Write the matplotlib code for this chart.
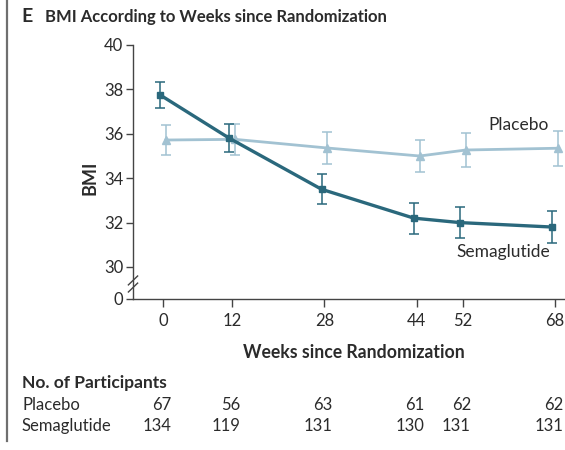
import matplotlib
matplotlib.use("Agg")
import matplotlib.pyplot as plt
import matplotlib.transforms as mtransforms
from matplotlib.lines import Line2D

plt.rcParams['font.family'] = ['Lato', 'DejaVu Sans']

weeks = [0, 12, 28, 44, 52, 68]
sema_bmi = [37.75, 35.8, 33.5, 32.2, 32.0, 31.8]
sema_err = [0.57, 0.62, 0.68, 0.7, 0.7, 0.72]
placebo_bmi = [35.72, 35.75, 35.36, 35.0, 35.27, 35.35]
placebo_err = [0.68, 0.7, 0.7, 0.72, 0.78, 0.78]
placebo_n = [67, 56, 63, 61, 62, 62]
sema_n = [134, 119, 131, 130, 131, 131]
ytick_vals = [30, 32, 34, 36, 38, 40]

SEMA_C = '#2a687c'
PLAC_C = '#a2c2d2'
TXT = '#2b2b2b'

W, H = 565, 450
fig = plt.figure(figsize=(W / 100, H / 100), dpi=100)

ax_left, ax_right, ax_top, ax_bot = 133, 565, 45, 299
ax = fig.add_axes([ax_left / W, 1 - ax_bot / H, (ax_right - ax_left) / W, (ax_bot - ax_top) / H])

ybot = 30 - 32 / 22.2
ax.set_ylim(ybot, 40)
ax.set_xlim(-5.2, 69.7)

off = 0.5
ax.errorbar([w + off for w in weeks], placebo_bmi, yerr=placebo_err, color=PLAC_C, lw=2.0,
            marker='^', ms=5.5, elinewidth=1.1, capsize=3.5, capthick=1.1, zorder=3, clip_on=False)
ax.errorbar([w - off for w in weeks], sema_bmi, yerr=sema_err, color=SEMA_C, lw=2.4,
            marker='s', ms=4.8, elinewidth=1.1, capsize=3.5, capthick=1.1, zorder=4, clip_on=False)

for s in ['top', 'right']:
    ax.spines[s].set_visible(False)
for s in ['left', 'bottom']:
    ax.spines[s].set_color('#444444')
    ax.spines[s].set_linewidth(1.0)

ax.set_yticks([ybot] + ytick_vals)
ax.set_yticklabels(['0'] + [str(v) for v in ytick_vals])
ax.set_xticks(weeks)
ax.set_xticklabels([str(w) for w in weeks])
ax.tick_params(axis='both', direction='out', length=5, width=1.0, color='#444444',
               labelsize=12, labelcolor=TXT, pad=2)
ax.tick_params(axis='x', length=6, pad=4)

# axis break marks
ybreak = 30 - 17 / 22.2
for dy in (-0.16, 0.16):
    ax.add_line(Line2D([-5.2 - 0.8, -5.2 + 0.8], [ybreak + dy - 0.2, ybreak + dy + 0.2],
                       color='#444444', lw=1.0, clip_on=False))

ax.set_ylabel('BMI', fontsize=13, fontweight='bold', color=TXT)
ax.set_xlabel('Weeks since Randomization', fontsize=12.7, fontweight='bold', color=TXT)
ax.xaxis.set_label_coords((354 - ax_left) / (ax_right - ax_left), -(352 - ax_bot) / (ax_bot - ax_top))
ax.yaxis.set_label_coords(-(133 - 90) / (ax_right - ax_left), (ax_bot - 178) / (ax_bot - ax_top))
ax.xaxis.label.set_va('center')
ax.yaxis.label.set_va('center')

ax.text(66.8, 36.4, 'Placebo', fontsize=12.5, color=TXT, ha='right', va='center')
ax.text(67.1, 30.68, 'Semaglutide', fontsize=12.5, color=TXT, ha='right', va='center')

# title
fig.text(21 / W, 1 - 17 / H, 'E', fontsize=14, fontweight='bold', color=TXT, va='center', ha='left')
fig.text(45 / W, 1 - 17 / H, 'BMI According to Weeks since Randomization', fontsize=12,
         fontweight='bold', color=TXT, va='center', ha='left')

# left bar
fig.add_artist(Line2D([7 / W, 7 / W], [1 - 0 / H, 1 - 441 / H], transform=fig.transFigure,
                      color='#6f6f6f', lw=1.6))

# table
fig.text(22 / W, 1 - 383 / H, 'No. of Participants', fontsize=12.5, fontweight='bold', color=TXT,
         va='center', ha='left')
fig.text(22 / W, 1 - 405 / H, 'Placebo', fontsize=12, color=TXT, va='center', ha='left')
fig.text(22 / W, 1 - 426 / H, 'Semaglutide', fontsize=12, color=TXT, va='center', ha='left')
blend = mtransforms.blended_transform_factory(ax.transData, fig.transFigure)
shift = mtransforms.ScaledTranslation(8 / 100, 0, fig.dpi_scale_trans)
for w, pn, sn in zip(weeks, placebo_n, sema_n):
    ax.text(w, 1 - 405 / H, str(pn), transform=blend + shift, fontsize=12, color=TXT,
            ha='right', va='center', clip_on=False)
    ax.text(w, 1 - 426 / H, str(sn), transform=blend + shift, fontsize=12, color=TXT,
            ha='right', va='center', clip_on=False)

fig.savefig('out.png', dpi=100, facecolor='white')
